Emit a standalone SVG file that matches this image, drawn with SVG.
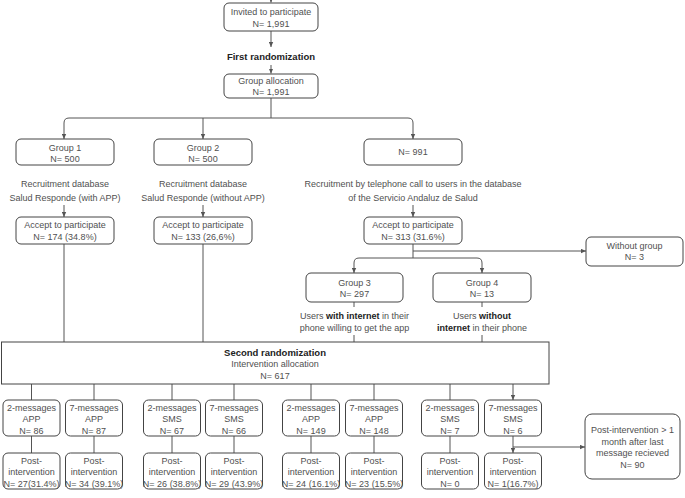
<svg xmlns="http://www.w3.org/2000/svg" width="685" height="498" viewBox="0 0 685 498">
<defs>
<marker id="ah" viewBox="0 0 8 8" refX="8" refY="4" markerWidth="5" markerHeight="5" markerUnits="userSpaceOnUse" orient="auto"><path d="M0,0.5 L8,4 L0,7.5 z" fill="#555"/></marker>
<style>
.b{fill:#fff;stroke:#444;stroke-width:1}
.t{font-family:"Liberation Sans",Arial,sans-serif;font-size:9px;fill:#505050;text-anchor:middle}
.s{font-family:"Liberation Sans",Arial,sans-serif;font-size:9px;fill:#505050;text-anchor:middle}
.h{font-family:"Liberation Sans",Arial,sans-serif;font-size:9.5px;font-weight:bold;fill:#222;text-anchor:middle}
.k{font-weight:bold;fill:#222}
.c{fill:none;stroke:#555;stroke-width:1}
.a{marker-end:url(#ah)}
</style>
</defs>
<rect width="685" height="498" fill="#fff"/>
<g id="connectors">
<path class="c a" d="M271,-4 V2.5"/>
<path class="c a" d="M271,31 V47"/>
<path class="c a" d="M271,65 V73.5"/>
<path class="c" d="M271,98 V118"/>
<path class="c a" d="M271,118 H69 Q64,118 64,123 V139"/>
<path class="c a" d="M271,118 H408 Q413,118 413,123 V139"/>
<path class="c a" d="M203,118 V139"/>
<path class="c a" d="M64,205 V217"/>
<path class="c a" d="M203,205 V217"/>
<path class="c a" d="M413,205 V217"/>
<path class="c" d="M64,244 V342"/>
<path class="c" d="M203,244 V342"/>
<path class="c" d="M413,244 V258"/>
<path class="c a" d="M413,251 H586"/>
<path class="c a" d="M413,258 H359 Q354,258 354,263 V273"/>
<path class="c a" d="M413,258 H477 Q482,258 482,263 V273"/>
<path class="c" d="M354,302 V307 M354,335 V342 M482,302 V307 M482,335 V342"/>
<path class="c a" d="M31.5,384 V400 M94,384 V400 M172,384 V400 M234,384 V400 M311,384 V400 M374,384 V400 M450,384 V400 M513,384 V400"/>
<path class="c a" d="M31.5,436 V453 M94,436 V453 M172,436 V453 M234,436 V453 M311,436 V453 M374,436 V453 M450,436 V453 M513,436 V453"/>
<path class="c a" d="M513,447 H585"/>
</g>
<g id="invited"><rect class="b" x="224" y="3" width="94" height="28" rx="5"/><text class="t" x="271" y="14.5">Invited to participate</text><text class="t" x="271" y="26.5">N= 1,991</text></g>
<g id="first-randomization"><text class="h" x="271" y="59.5">First randomization</text></g>
<g id="group-allocation"><rect class="b" x="224" y="74" width="94" height="24" rx="5"/><text class="t" x="271" y="83.7">Group allocation</text><text class="t" x="271" y="94.7">N= 1,991</text></g>
<g id="group1"><rect class="b" x="16" y="139" width="98" height="26" rx="5"/><text class="t" x="65" y="150.5">Group 1</text><text class="t" x="65" y="161.5">N= 500</text><text class="t" x="65" y="186.5">Recruitment database</text><text class="t" x="65" y="200.5">Salud Responde (with APP)</text></g>
<g id="group2"><rect class="b" x="154" y="139" width="98" height="26" rx="5"/><text class="t" x="203" y="150.5">Group 2</text><text class="t" x="203" y="161.5">N= 500</text><text class="t" x="203" y="186.5">Recruitment database</text><text class="t" x="203" y="200.5">Salud Responde (without APP)</text></g>
<g id="n991"><rect class="b" x="364" y="139" width="98" height="26" rx="5"/><text class="t" x="413" y="155.2">N= 991</text><text class="t" x="413" y="186.5">Recruitment by telephone call to users in the database</text><text class="t" x="413" y="200.5">of the Servicio Andaluz de Salud</text></g>
<g id="accept1"><rect class="b" x="16" y="217" width="98" height="27" rx="5"/><text class="t" x="65" y="227.8">Accept to participate</text><text class="t" x="65" y="240">N= 174 (34.8%)</text></g>
<g id="accept2"><rect class="b" x="154" y="217" width="98" height="27" rx="5"/><text class="t" x="203" y="227.8">Accept to participate</text><text class="t" x="203" y="240">N= 133 (26,6%)</text></g>
<g id="accept3"><rect class="b" x="364" y="217" width="98" height="27" rx="5"/><text class="t" x="413" y="227.8">Accept to participate</text><text class="t" x="413" y="240">N= 313 (31.6%)</text></g>
<g id="without-group"><rect class="b" x="586" y="237" width="97" height="29" rx="5"/><text class="t" x="634.5" y="249.2">Without group</text><text class="t" x="634.5" y="259.7">N= 3</text></g>
<g id="group3"><rect class="b" x="306" y="273" width="97" height="29" rx="5"/><text class="t" x="354.5" y="286">Group 3</text><text class="t" x="354.5" y="296.5">N= 297</text><text class="t" x="354.5" y="319.2">Users <tspan class="k">with internet</tspan> in their</text><text class="t" x="354.5" y="330.5">phone willing to get the app</text></g>
<g id="group4"><rect class="b" x="433" y="273" width="98" height="29" rx="5"/><text class="t" x="482" y="286">Group 4</text><text class="t" x="482" y="296.5">N= 13</text><text class="t" x="482" y="319.2">Users <tspan class="k">without</tspan></text><text class="t" x="482" y="330.5"><tspan class="k">internet</tspan> in their phone</text></g>
<g id="second-randomization"><rect class="b" x="1.5" y="342" width="547.5" height="42"/><text class="h" x="275" y="355.5">Second randomization</text><text class="t" x="275" y="367.2">Intervention allocation</text><text class="t" x="275" y="378.6">N= 617</text></g>
<g id="arm1"><rect class="b" x="3" y="400" width="57" height="36" rx="5"/><text class="s" x="31.5" y="410.7">2-messages</text><text class="s" x="31.5" y="422.2">APP</text><text class="s" x="31.5" y="433.7">N= 86</text></g>
<g id="arm2"><rect class="b" x="65.5" y="400" width="57" height="36" rx="5"/><text class="s" x="94" y="410.7">7-messages</text><text class="s" x="94" y="422.2">APP</text><text class="s" x="94" y="433.7">N= 87</text></g>
<g id="arm3"><rect class="b" x="143.5" y="400" width="57" height="36" rx="5"/><text class="s" x="172" y="410.7">2-messages</text><text class="s" x="172" y="422.2">SMS</text><text class="s" x="172" y="433.7">N= 67</text></g>
<g id="arm4"><rect class="b" x="205.5" y="400" width="57" height="36" rx="5"/><text class="s" x="234" y="410.7">7-messages</text><text class="s" x="234" y="422.2">SMS</text><text class="s" x="234" y="433.7">N= 66</text></g>
<g id="arm5"><rect class="b" x="282.5" y="400" width="57" height="36" rx="5"/><text class="s" x="311" y="410.7">2-messages</text><text class="s" x="311" y="422.2">APP</text><text class="s" x="311" y="433.7">N= 149</text></g>
<g id="arm6"><rect class="b" x="345.5" y="400" width="57" height="36" rx="5"/><text class="s" x="374" y="410.7">7-messages</text><text class="s" x="374" y="422.2">APP</text><text class="s" x="374" y="433.7">N= 148</text></g>
<g id="arm7"><rect class="b" x="421.5" y="400" width="57" height="36" rx="5"/><text class="s" x="450" y="410.7">2-messages</text><text class="s" x="450" y="422.2">SMS</text><text class="s" x="450" y="433.7">N= 7</text></g>
<g id="arm8"><rect class="b" x="484.5" y="400" width="57" height="36" rx="5"/><text class="s" x="513" y="410.7">7-messages</text><text class="s" x="513" y="422.2">SMS</text><text class="s" x="513" y="433.7">N= 6</text></g>
<g id="post1"><rect class="b" x="3" y="453" width="57" height="36" rx="5"/><text class="s" x="31.5" y="463.7">Post-</text><text class="s" x="31.5" y="475.2">intervention</text><text class="s" x="31.5" y="486.7">N= 27(31.4%)</text></g>
<g id="post2"><rect class="b" x="65.5" y="453" width="57" height="36" rx="5"/><text class="s" x="94" y="463.7">Post-</text><text class="s" x="94" y="475.2">intervention</text><text class="s" x="94" y="486.7">N= 34 (39.1%)</text></g>
<g id="post3"><rect class="b" x="143.5" y="453" width="57" height="36" rx="5"/><text class="s" x="172" y="463.7">Post-</text><text class="s" x="172" y="475.2">intervention</text><text class="s" x="172" y="486.7">N= 26 (38.8%)</text></g>
<g id="post4"><rect class="b" x="205.5" y="453" width="57" height="36" rx="5"/><text class="s" x="234" y="463.7">Post-</text><text class="s" x="234" y="475.2">intervention</text><text class="s" x="234" y="486.7">N= 29 (43.9%)</text></g>
<g id="post5"><rect class="b" x="282.5" y="453" width="57" height="36" rx="5"/><text class="s" x="311" y="463.7">Post-</text><text class="s" x="311" y="475.2">intervention</text><text class="s" x="311" y="486.7">N= 24 (16.1%)</text></g>
<g id="post6"><rect class="b" x="345.5" y="453" width="57" height="36" rx="5"/><text class="s" x="374" y="463.7">Post-</text><text class="s" x="374" y="475.2">intervention</text><text class="s" x="374" y="486.7">N= 23 (15.5%)</text></g>
<g id="post7"><rect class="b" x="421.5" y="453" width="57" height="36" rx="5"/><text class="s" x="450" y="463.7">Post-</text><text class="s" x="450" y="475.2">intervention</text><text class="s" x="450" y="486.7">N= 0</text></g>
<g id="post8"><rect class="b" x="484.5" y="453" width="57" height="36" rx="5"/><text class="s" x="513" y="463.7">Post-</text><text class="s" x="513" y="475.2">intervention</text><text class="s" x="513" y="486.7">N= 1(16.7%)</text></g>
<g id="post-month"><rect class="b" x="585" y="414" width="95" height="65" rx="7"/><text class="t" x="632.5" y="433.2">Post-intervention &gt; 1</text><text class="t" x="632.5" y="444.7">month after last</text><text class="t" x="632.5" y="456.2">message recieved</text><text class="t" x="632.5" y="467.7">N= 90</text></g>
</svg>
